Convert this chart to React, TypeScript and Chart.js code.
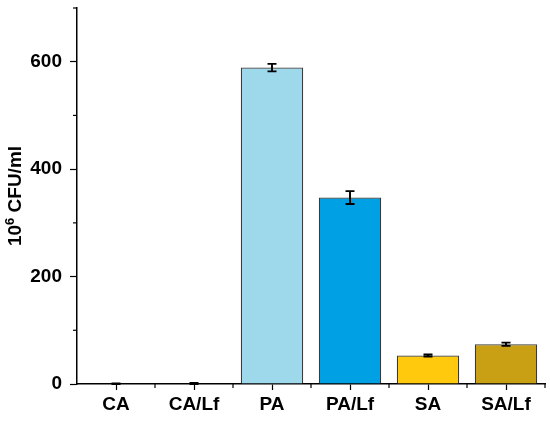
import React, { useEffect, useRef } from "react";
import { Chart, registerables } from "chart.js";

Chart.register(...registerables);

const categories = ["CA", "CA/Lf", "PA", "PA/Lf", "SA", "SA/Lf"];
const values = [0, 1, 589, 347, 53, 74];
const errors = [1, 1, 7, 12, 2, 3];
const barColors = ["#9DD9EA", "#9DD9EA", "#9DD9EA", "#00A0E4", "#FFC90E", "#C9A013"];
const yMajorTicks = [0, 200, 400, 600];
const yMinorTicks = [100, 300, 500, 700];
const titleBase = "10";
const titleSup = "6";
const titleRest = " CFU/ml";

const FONT = "Liberation Sans, Arial, sans-serif";

const axisPlugin = {
  id: "axisExtras",
  afterDatasetsDraw(chart: any) {
    const { ctx, scales } = chart;
    const x = scales.x;
    const y = scales.y;
    ctx.save();
    // error bars
    ctx.strokeStyle = "#000";
    ctx.lineWidth = 1.9;
    const meta = chart.getDatasetMeta(0);
    values.forEach((v, i) => {
      const px = meta.data[i].x;
      const top = y.getPixelForValue(v + errors[i]);
      const bot = y.getPixelForValue(Math.max(0, v - errors[i]));
      ctx.beginPath();
      ctx.moveTo(px, top);
      ctx.lineTo(px, bot);
      ctx.moveTo(px - 4.5, top);
      ctx.lineTo(px + 4.5, top);
      ctx.moveTo(px - 4.5, bot);
      ctx.lineTo(px + 4.5, bot);
      ctx.stroke();
    });
    // minor ticks y
    ctx.lineWidth = 1.2;
    const left = chart.chartArea.left;
    yMinorTicks.forEach((t) => {
      const py = y.getPixelForValue(t);
      ctx.beginPath();
      ctx.moveTo(left - 4, py);
      ctx.lineTo(left, py);
      ctx.stroke();
    });
    // minor ticks x (category boundaries)
    const bottom = chart.chartArea.bottom;
    for (let i = 0; i < categories.length; i++) {
      const px = (x.getPixelForValue(i) + x.getPixelForValue(i + 1)) / 2;
      ctx.beginPath();
      ctx.moveTo(px, bottom);
      ctx.lineTo(px, bottom + 4);
      ctx.stroke();
    }
    // y title with superscript
    const cy = (chart.chartArea.top + chart.chartArea.bottom) / 2;
    ctx.translate(15, cy);
    ctx.rotate(-Math.PI / 2);
    ctx.fillStyle = "#000";
    ctx.textBaseline = "middle";
    const big = `bold 19px ${FONT}`;
    const small = `bold 13px ${FONT}`;
    ctx.font = big;
    const w1 = ctx.measureText(titleBase).width;
    const w3 = ctx.measureText(titleRest).width;
    ctx.font = small;
    const w2 = ctx.measureText(titleSup).width;
    let sx = -(w1 + w2 + w3) / 2;
    ctx.font = big;
    ctx.textAlign = "left";
    ctx.fillText(titleBase, sx, 1);
    sx += w1;
    ctx.font = small;
    ctx.fillText(titleSup, sx, -5);
    sx += w2;
    ctx.font = big;
    ctx.fillText(titleRest, sx, 1);
    ctx.restore();
  },
};

export default function App() {
  const ref = useRef<HTMLCanvasElement>(null);
  useEffect(() => {
    document.body.style.margin = "0";
    const chart = new Chart(ref.current as HTMLCanvasElement, {
      type: "bar",
      data: {
        labels: categories,
        datasets: [
          {
            data: values,
            backgroundColor: barColors,
            borderColor: "#3a3a3a",
            borderWidth: 1.2,
            barPercentage: 0.8,
            categoryPercentage: 1,
          },
        ],
      },
      options: {
        animation: false,
        responsive: false,
        layout: { padding: { top: 8, right: 5, left: 0, bottom: 0 } },
        plugins: { legend: { display: false }, tooltip: { enabled: false } },
        scales: {
          x: {
            grid: {
              display: true,
              drawOnChartArea: false,
              offset: false,
              tickLength: 6,
              tickColor: "#000",
              tickWidth: 1.2,
            },
            border: { display: true, color: "#000", width: 1.5 },
            ticks: {
              color: "#000",
              font: { family: FONT, size: 19, weight: "bold" },
              padding: 3,
              maxRotation: 0,
            },
            afterFit(scale: any) {
              scale.height = 39;
              scale.paddingLeft = 0;
              scale.paddingRight = 0;
            },
          },
          y: {
            min: 0,
            max: 700,
            afterBuildTicks(scale: any) {
              scale.ticks = yMajorTicks.map((v) => ({ value: v }));
            },
            grid: {
              display: true,
              drawOnChartArea: false,
              tickLength: 7,
              tickColor: "#000",
              tickWidth: 1.2,
            },
            border: { display: true, color: "#000", width: 1.5 },
            ticks: {
              color: "#000",
              font: { family: FONT, size: 19, weight: "bold" },
              padding: 8,
            },
            afterFit(scale: any) {
              scale.width = 77;
              scale.paddingTop = 0;
              scale.paddingBottom = 0;
            },
          },
        },
      },
      plugins: [axisPlugin],
    });
    return () => chart.destroy();
  }, []);
  return (
    <div style={{ width: 550, height: 423 }}>
      <canvas ref={ref} width={550} height={423} style={{ display: "block" }} />
    </div>
  );
}
